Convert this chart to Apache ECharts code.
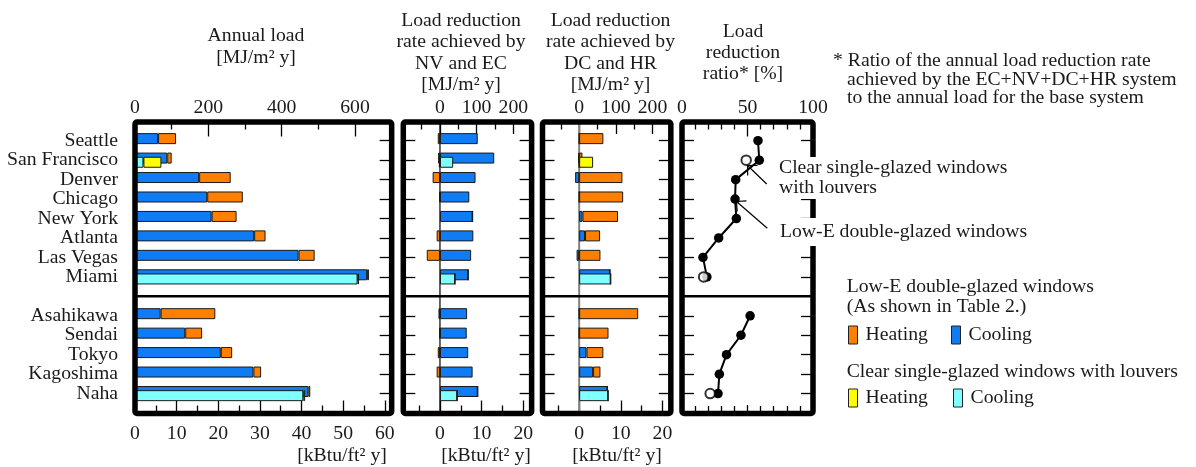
<!DOCTYPE html>
<html>
<head>
<meta charset="utf-8">
<script src="https://cdn.jsdelivr.net/npm/echarts@6/dist/echarts.min.js"></script>
<style>html,body{margin:0;padding:0;background:#fff}#c{width:1196px;height:467px}</style>
</head>
<body>
<div id="c"></div>
<script>
// ---------------- DATA ----------------
const cities = ['Seattle','San Francisco','Denver','Chicago','New York','Atlanta','Las Vegas','Miami',' ','Asahikawa','Sendai','Tokyo','Kagoshima','Naha'];
const GAP_INDEX = 8;

// Annual load [MJ/m2 y]
const annualCoolingLowE  = [63, 88, 175, 197, 209, 325, 446, 633, null, 70, 137, 234, 323, 473];
const annualHeatingLowE  = [49, 12, 86, 97, 68, 31, 44, 5, null, 149, 46, 31, 21, 5];
const annualCoolingClear = [null, 23, null, null, null, null, null, 607, null, null, null, null, null, 459];
const annualHeatingClear = [null, 49, null, null, null, null, null, 4, null, null, null, null, null, 5];

// Load reduction rate achieved by NV and EC [MJ/m2 y]
const nvecCoolingLowE  = [103, 148, 97, 80, 89, 91, 85, 77, null, 74, 73, 77, 89, 103];
const nvecHeatingLowE  = [-6, -5, -20, -2, 0, -9, -36, 0, null, -4, -1, -6, -9, 0];
const nvecCoolingClear = [null, 36, null, null, null, null, null, 41, null, null, null, null, null, 47];
const nvecHeatingClear = [null, -3, null, null, null, null, null, 0, null, null, null, null, null, 0];

// Load reduction rate achieved by DC and HR [MJ/m2 y]
const dchrCoolingLowE  = [0, -2, -11, 0, 9, 16, -7, 84, null, 0, 0, 20, 38, 77];
const dchrHeatingLowE  = [66, 9, 118, 120, 97, 41, 58, 0, null, 161, 80, 46, 20, 0];
const dchrCoolingClear = [null, 0, null, null, null, null, null, 86, null, null, null, null, null, 79];
const dchrHeatingClear = [null, 38, null, null, null, null, null, 0, null, null, null, null, null, 0];

// Load reduction ratio [%]
const ratioLowE  = [58, 59, 41, 40.5, 41.5, 28, 16, 19, null, 52, 45, 34, 28.5, 27.5];
const ratioClear = [null, 49, null, null, null, null, null, 16.5, null, null, null, null, null, 21.5];

// Tick labels
const annualTicksMJ    = [0, 200, 400, 600];
const annualTicksKBtu  = [0, 10, 20, 30, 40, 50, 60];
const reductionTicksMJ   = [0, 100, 200];
const reductionTicksKBtu = [0, 10, 20];
const ratioTicks = [0, 50, 100];

// Minor / major tick positions
const annualMinorMJ   = [100, 300, 500];
const annualMinorKBtu = [5, 15, 25, 35, 45, 55];
const reductionMinorMJ   = [-50, 50, 150];
const reductionMinorKBtu = [-5, 5, 15];
const ratioMinor = [10, 20, 30, 40, 60, 70, 80, 90];

// ---------------- LAYOUT ----------------
const FONT = '"Liberation Serif", "Times New Roman", serif';
const FS = 19.7;
const TXT = '#1a1a1a';
const KBTU = 11.357;           // MJ/m2 per kBtu/ft2
const FRAME_TOP = 122, FRAME_BOTTOM = 413.5, FRAME_LW = 5.5;
const GRID_TOP = 131, ROW_H = 19.45, GRID_H = ROW_H * cities.length;
const MJ_PX = 0.36667;
const panels = [
  {left: 135,   min: 0,    max: 700, scale: MJ_PX},
  {left: 403.3, min: -100, max: 250, scale: MJ_PX},
  {left: 542.5, min: -100, max: 250, scale: MJ_PX},
  {left: 682,   min: 0,    max: 100, scale: 1.31}
];
panels.forEach(p => { p.width = (p.max - p.min) * p.scale; });
const TOP_OFF = GRID_TOP - FRAME_TOP;
const BOT_OFF = FRAME_BOTTOM - (GRID_TOP + GRID_H);

const COL = {cool: '#0f7cf4', heat: '#ff8000', coolC: '#80ffff', heatC: '#ffff00'};

function valueAxis(gi, pos, min, max, ticks, len, labels) {
  return {
    gridIndex: gi, type: 'value', position: pos,
    offset: pos === 'top' ? TOP_OFF : BOT_OFF,
    min: min, max: max,
    axisLine: {show: false, onZero: false},
    splitLine: {show: false},
    minorTick: {show: false},
    axisTick: {show: true, inside: true, length: len, customValues: ticks,
      lineStyle: {color: '#000', width: 1.3}},
    axisLabel: labels ? {show: true, customValues: labels, margin: pos === 'top' ? 4 : 10,
      fontSize: FS, fontFamily: FONT, color: TXT} : {show: false}
  };
}
function catAxis(gi, pos, showLabel) {
  return {
    gridIndex: gi, type: 'category', data: cities, inverse: true, position: pos,
    axisLine: {show: false, onZero: false},
    splitLine: {show: false},
    axisTick: {show: true, inside: true, alignWithLabel: true, length: 12,
      interval: (i) => i !== GAP_INDEX, lineStyle: {color: '#000', width: 1.3}},
    axisLabel: {show: showLabel, interval: 0, margin: 17, fontSize: FS, fontFamily: FONT, color: TXT}
  };
}

const xAxes = [], yAxes = [];
// panel 0 : annual load
{
  const p = panels[0];
  xAxes.push(valueAxis(0, 'top', p.min, p.max, annualMinorMJ, 7.5, annualTicksMJ));
  xAxes.push(valueAxis(0, 'top', p.min, p.max, annualTicksMJ, 14.5, null));
  xAxes.push(valueAxis(0, 'bottom', p.min / KBTU, p.max / KBTU, annualMinorKBtu, 8, annualTicksKBtu));
  xAxes.push(valueAxis(0, 'bottom', p.min / KBTU, p.max / KBTU, annualTicksKBtu, 13, null));
}
// panels 1,2 : reductions
[1, 2].forEach(gi => {
  const p = panels[gi];
  xAxes.push(valueAxis(gi, 'top', p.min, p.max, reductionMinorMJ, 7.5, reductionTicksMJ));
  xAxes.push(valueAxis(gi, 'top', p.min, p.max, reductionTicksMJ, 12, null));
  xAxes.push(valueAxis(gi, 'bottom', p.min / KBTU, p.max / KBTU, reductionMinorKBtu, 8, reductionTicksKBtu));
  xAxes.push(valueAxis(gi, 'bottom', p.min / KBTU, p.max / KBTU, reductionTicksKBtu, 13, null));
});
// panel 3 : ratio
{
  const p = panels[3];
  xAxes.push(valueAxis(3, 'top', p.min, p.max, ratioMinor, 7.5, ratioTicks));
  xAxes.push(valueAxis(3, 'top', p.min, p.max, [50], 14.5, null));
  xAxes.push(valueAxis(3, 'bottom', p.min, p.max, ratioMinor, 7.5, null));
  xAxes.push(valueAxis(3, 'bottom', p.min, p.max, [50], 8.5, null));
}
panels.forEach((p, gi) => {
  yAxes.push(catAxis(gi, 'left', gi === 0));
  yAxes.push(catAxis(gi, 'right', false));
});

const toData = arr => arr.map(v => (v == null ? '-' : v));
function bar(gi, name, data, color, stack) {
  return {
    type: 'bar', name: name, xAxisIndex: gi * 4, yAxisIndex: gi * 2,
    stack: stack + gi, data: toData(data), barWidth: 11, barGap: '-62%',
    itemStyle: {color: color, borderColor: '#1a1a1a', borderWidth: 1},
    emphasis: {disabled: true}, silent: true
  };
}
const sets = [
  [annualCoolingLowE, annualHeatingLowE, annualCoolingClear, annualHeatingClear],
  [nvecCoolingLowE, nvecHeatingLowE, nvecCoolingClear, nvecHeatingClear],
  [dchrCoolingLowE, dchrHeatingLowE, dchrCoolingClear, dchrHeatingClear]
];
const series = [];
sets.forEach((s, gi) => {
  series.push(bar(gi, 'Low-E Cooling', s[0], COL.cool, 'lowe'));
  series.push(bar(gi, 'Low-E Heating', s[1], COL.heat, 'lowe'));
  series.push(bar(gi, 'Clear Cooling', s[2], COL.coolC, 'clear'));
  series.push(bar(gi, 'Clear Heating', s[3], COL.heatC, 'clear'));
});
series.push({
  type: 'line', name: 'Low-E ratio', xAxisIndex: 12, yAxisIndex: 6,
  data: toData(ratioLowE), symbol: 'circle', symbolSize: 9.5, showAllSymbol: true,
  itemStyle: {color: '#000'}, lineStyle: {color: '#000', width: 2}, z: 3,
  emphasis: {disabled: true}, silent: true
});
series.push({
  type: 'scatter', name: 'Clear ratio', xAxisIndex: 12, yAxisIndex: 6,
  data: ratioClear.map((v, i) => (v == null ? null : [v, cities[i]])).filter(d => d),
  symbol: 'circle', symbolSize: 9.5,
  itemStyle: {color: '#fff', borderColor: '#000', borderWidth: 2}, z: 4,
  emphasis: {disabled: true}, silent: true
});

function legendItem(name, label, left, top) {
  return {
    data: [name], left: left, top: top, orient: 'horizontal', padding: 0,
    icon: 'rect', itemWidth: 9, itemHeight: 18, selectedMode: false,
    formatter: () => label,
    itemStyle: {borderColor: '#222', borderWidth: 1},
    textStyle: {fontSize: FS, fontFamily: FONT, color: TXT, padding: [0, 0, 0, 3]}
  };
}
const legends = [
  legendItem('Low-E Heating', 'Heating', 848, 325),
  legendItem('Low-E Cooling', 'Cooling', 951, 325),
  legendItem('Clear Heating', 'Heating', 848, 388),
  legendItem('Clear Cooling', 'Cooling', 953, 388)
];

// ---------------- GRAPHICS (frames, texts) ----------------
const g = [];
function text(x, y, s, align, extra) {
  g.push({type: 'text', x: x, y: y, z: 120,
    style: Object.assign({text: s, fill: TXT, fontSize: FS, fontFamily: FONT,
      align: align || 'center', verticalAlign: 'middle'}, extra || {})});
}
const SEP_Y = GRID_TOP + (GAP_INDEX + 0.5) * ROW_H;
panels.forEach(p => {
  g.push({type: 'line', z: 90, shape: {x1: p.left, y1: SEP_Y, x2: p.left + p.width, y2: SEP_Y},
    style: {stroke: '#000', lineWidth: 2.5}});
  g.push({type: 'rect', z: 100, shape: {x: p.left, y: FRAME_TOP, width: p.width, height: FRAME_BOTTOM - FRAME_TOP, r: 2},
    style: {fill: null, stroke: '#000', lineWidth: FRAME_LW, lineJoin: 'round'}});
});
// zero lines for the reduction panels
[[1, '#000', 1.2], [2, '#808080', 2]].forEach(([gi, c, w]) => {
  const p = panels[gi];
  const x0 = p.left + (0 - p.min) * p.scale;
  g.push({type: 'line', z: 1, shape: {x1: x0, y1: FRAME_TOP, x2: x0, y2: FRAME_BOTTOM},
    style: {stroke: c, lineWidth: w}});
});
function arrow(x1, y1, x2, y2) {
  const a = Math.atan2(y1 - y2, x1 - x2), L = 10, d = Math.PI / 4;
  g.push({type: 'line', z: 110, shape: {x1: x1, y1: y1, x2: x2, y2: y2}, style: {stroke: '#000', lineWidth: 1.2}});
  g.push({type: 'polyline', z: 110, shape: {points: [
    [x2 + L * Math.cos(a - d), y2 + L * Math.sin(a - d)], [x2, y2],
    [x2 + L * Math.cos(a + d), y2 + L * Math.sin(a + d)]]},
    style: {stroke: '#000', lineWidth: 1.2, fill: null}});
}

// titles
text(256, 36, 'Annual load');
text(256, 57.5, '[MJ/m² y]');
['Load reduction', 'rate achieved by', 'NV and EC', '[MJ/m² y]'].forEach((s, i) => text(461, 21 + i * 21.3, s));
['Load reduction', 'rate achieved by', 'DC and HR', '[MJ/m² y]'].forEach((s, i) => text(610.5, 21 + i * 21.3, s));
['Load', 'reduction', 'ratio* [%]'].forEach((s, i) => text(743, 31.5 + i * 21, s));
text(833, 60.5, '* Ratio of the annual load reduction rate', 'left');
text(847, 79.5, 'achieved by the EC+NV+DC+HR system', 'left');
text(847, 98, 'to the annual load for the base system', 'left');
// bottom units
text(342, 456, '[kBtu/ft² y]');
text(486, 456, '[kBtu/ft² y]');
text(617, 456, '[kBtu/ft² y]');
// annotations
arrow(766.7, 184, 747.5, 165.5);
arrow(767.3, 228.3, 736.5, 201.5);
text(777, 178, 'Clear single-glazed windows\nwith louvers', 'left',
  {lineHeight: 20, backgroundColor: '#fff', padding: [1, 3, 1, 2]});
text(778, 232, 'Low-E double-glazed windows', 'left',
  {backgroundColor: '#fff', padding: [4, 3, 4, 2]});
// legend headings
text(846.7, 287, 'Low-E double-glazed windows', 'left');
text(846.7, 307, '(As shown in Table 2.)', 'left');
text(846.7, 372, 'Clear single-glazed windows with louvers', 'left');

const option = {
  animation: false,
  backgroundColor: '#fff',
  textStyle: {fontFamily: FONT},
  grid: panels.map(p => ({left: p.left, top: GRID_TOP, width: p.width, height: GRID_H,
    containLabel: false, outerBoundsMode: 'none', show: false})),
  xAxis: xAxes,
  yAxis: yAxes,
  legend: legends,
  tooltip: {show: false},
  series: series,
  graphic: {elements: g}
};
const chart = echarts.init(document.getElementById('c'), null, {renderer: 'canvas'});
chart.setOption(option);
</script>
</body>
</html>
